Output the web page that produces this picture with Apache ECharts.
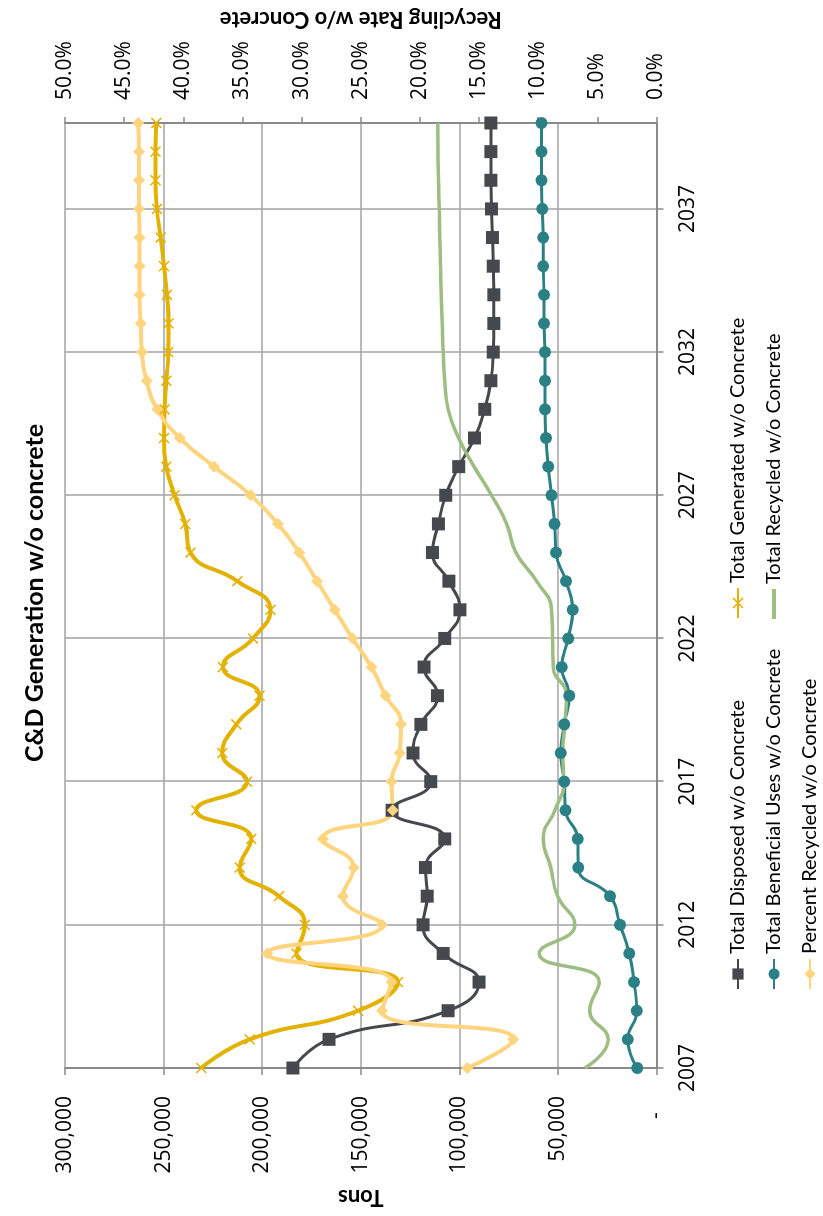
<!DOCTYPE html>
<html><head><meta charset="utf-8">
<script src="https://cdn.jsdelivr.net/npm/echarts@6.0.0/dist/echarts.min.js"></script>
<style>
html,body{margin:0;padding:0;width:823px;height:1216px;overflow:hidden;background:#fff;}
#chart{position:absolute;left:0;top:0;width:1216px;height:823px;transform-origin:0 0;transform:translate(0,1216px) rotate(-90deg);}
</style></head><body><div id="chart"></div>
<script>
const years = ['2007','2008','2009','2010','2011','2012','2013','2014','2015','2016','2017','2018','2019','2020','2021','2022','2023','2024','2025','2026','2027','2028','2029','2030','2031','2032','2033','2034','2035','2036','2037','2038','2039','2040'];
const disposed = [184400,166100,105700,90000,108200,118400,116300,117200,107400,134100,114500,123500,119500,111100,117900,107400,99700,105300,113600,110600,106900,100300,92300,87100,84000,82800,82500,82500,82800,83200,83700,84000,84000,84000];
const generated = [230900,206300,151400,131100,182600,178400,191500,211400,205500,233400,207700,220200,213100,201300,219900,204700,195800,212600,236300,239000,244400,248600,249800,249500,248600,247600,247500,248300,249800,251500,253400,254100,254100,253700];
const beneficial = [9750,14600,10000,11400,13800,18500,23600,39700,40000,46100,46800,48600,46800,44300,48000,44800,42500,45900,51000,51700,53200,54900,56100,56600,56600,56600,57000,57000,57500,57500,58000,58300,58300,58300];
const recycled = [36300,24500,33800,29000,59500,41400,50200,53600,57500,51500,47000,47500,46500,45600,52400,52700,53200,60800,71300,76000,83700,92500,100400,105700,107400,108200,108700,109200,109500,109900,110200,110600,110800,110900];
const percentRecycled = [16.0,12.1,23.2,22.4,32.9,23.2,26.5,25.6,28.2,22.3,22.4,21.7,21.6,22.9,24.1,25.7,27.2,28.7,30.2,32.0,34.3,37.4,40.3,42.2,43.1,43.5,43.6,43.7,43.7,43.7,43.75,43.75,43.75,43.8];

const names = ['Total Disposed w/o Concrete','Total Generated w/o Concrete','Total Beneficial Uses w/o Concrete','Total Recycled w/o Concrete','Percent Recycled w/o Concrete'];
const colors = ['#45494d','#e3b100','#2b8085','#9dbd82','#ffd47f'];
const xSym = 'path://M0,1L1,0L5,4L9,0L10,1L6,5L10,9L9,10L5,6L1,10L0,9L4,5Z';

const tickFont = {fontFamily:'Open Sans', fontSize:21, color:'#000'};
const gridColor = '#a3a3a3', axisColor = '#8a8a8a';

const chart = echarts.init(document.getElementById('chart'), null, {renderer:'canvas'});

function legendAt(item, left, rowCenter, h){
  return {data:[item], left:left, top:rowCenter-11, padding:0, itemWidth:30, itemHeight:h||14, itemGap:0,
    selectedMode:false, textStyle:{fontFamily:'Lato', fontSize:20, color:'#000'}};
}

chart.setOption({
  animation:false,
  backgroundColor:'#fff',
  title:{text:'C&D Generation w/o concrete', left:623, top:22, textAlign:'center', padding:0,
    textStyle:{fontFamily:'Lato', fontWeight:'bold', fontSize:25, color:'#000'}},
  legend:[
    legendAt(names[0],226,739),
    legendAt(names[1],597,739),
    legendAt(names[2],226,775),
    legendAt({name:names[3], icon:'rect', itemStyle:{color:colors[3]}},597,775,4),
    legendAt(names[4],226,811)
  ],
  grid:{left:146, right:118, top:65, bottom:166.5, containLabel:false},
  xAxis:{type:'category', data:years, boundaryGap:false,
    axisLine:{show:true, lineStyle:{color:axisColor, width:2}},
    axisTick:{show:true, interval:4, length:7, lineStyle:{color:axisColor, width:1.5}},
    axisLabel:Object.assign({interval:4, margin:21}, tickFont),
    splitLine:{show:true, interval:4, lineStyle:{color:gridColor, width:1.5}}},
  yAxis:[
    {type:'value', min:0, max:300000, interval:50000, position:'left',
      name:'Tons', nameLocation:'middle', nameRotate:90, nameGap:118,
      nameTextStyle:{fontFamily:'Lato', fontWeight:'bold', fontSize:22, color:'#000'},
      axisLine:{show:true, lineStyle:{color:axisColor, width:2}},
      axisTick:{show:true, length:7, lineStyle:{color:axisColor, width:1.5}},
      axisLabel:Object.assign({margin:28, formatter:v=> v===0 ? '-   ' : v.toLocaleString('en-US')}, tickFont),
      splitLine:{show:true, lineStyle:{color:gridColor, width:1.5}}},
    {type:'value', min:0, max:50, interval:5, position:'right',
      name:'Recycling Rate w/o Concrete', nameLocation:'middle', nameRotate:90, nameGap:93,
      nameTextStyle:{fontFamily:'Lato', fontWeight:'bold', fontSize:22, color:'#000'},
      axisLine:{show:true, lineStyle:{color:axisColor, width:2}},
      axisTick:{show:true, length:6, lineStyle:{color:axisColor, width:1.5}},
      axisLabel:Object.assign({margin:23, formatter:v=> v.toFixed(1)+'%'}, tickFont),
      splitLine:{show:false}}
  ],
  series:[
    {name:names[0], type:'line', data:disposed, smooth:0.5, yAxisIndex:0, color:colors[0],
      symbol:'rect', symbolSize:13, lineStyle:{width:3, color:colors[0]}, itemStyle:{color:colors[0]}},
    {name:names[1], type:'line', data:generated, smooth:0.5, yAxisIndex:0, color:colors[1],
      symbol:xSym, symbolSize:11, lineStyle:{width:4, color:colors[1]}, itemStyle:{color:colors[1]}},
    {name:names[2], type:'line', data:beneficial, smooth:0.5, yAxisIndex:0, color:colors[2],
      symbol:'circle', symbolSize:12, lineStyle:{width:3, color:colors[2]}, itemStyle:{color:colors[2]}},
    {name:names[3], type:'line', data:recycled, smooth:0.5, yAxisIndex:0, color:colors[3],
      symbol:'none', lineStyle:{width:3.5, color:colors[3]}, itemStyle:{color:colors[3]}},
    {name:names[4], type:'line', data:percentRecycled, smooth:0.5, yAxisIndex:1, color:colors[4],
      symbol:'diamond', symbolSize:12, lineStyle:{width:4, color:colors[4]}, itemStyle:{color:colors[4]}}
  ]
});
</script></body></html>
